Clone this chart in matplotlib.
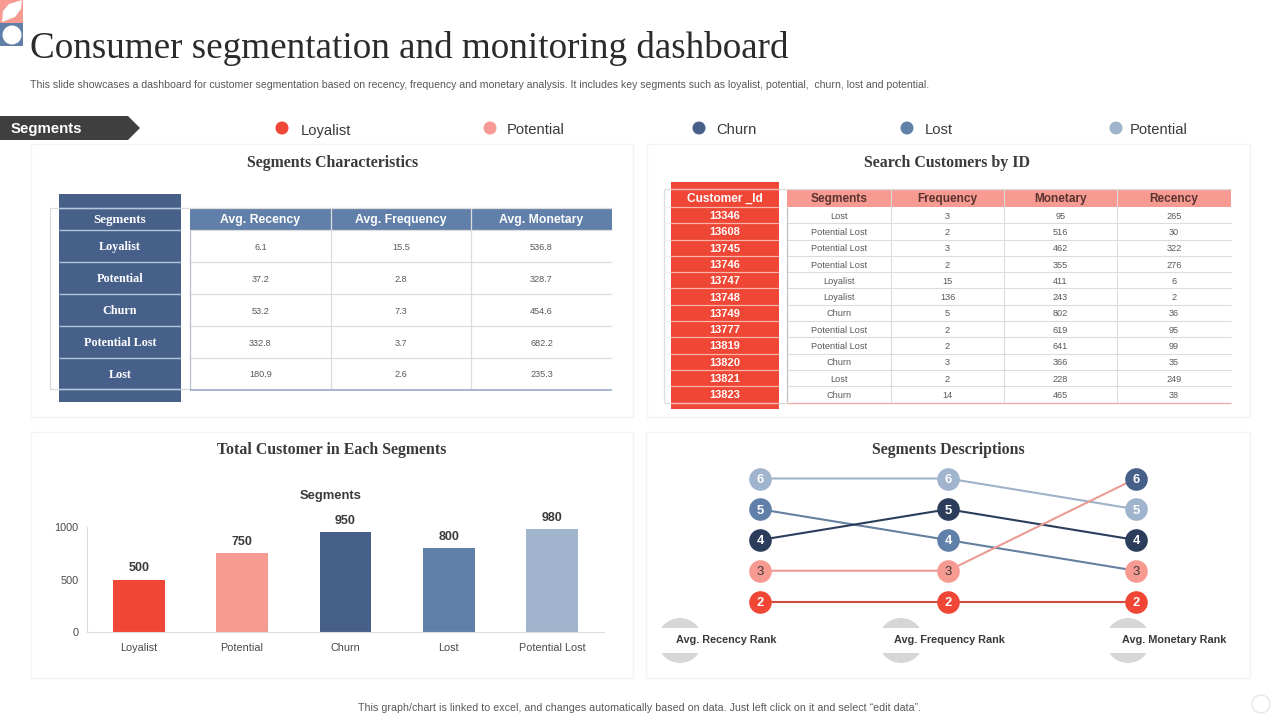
import matplotlib
import matplotlib.pyplot as plt
from matplotlib.patches import Circle, Polygon, Rectangle, Ellipse

matplotlib.use('Agg')

OUTPUT_PATH = "out.png"

# Theme
RED = "#f04635"
PINK = "#f69a92"
NAVY = "#2b3d5b"
DARK_BLUE = "#46608a"
BLUE = "#6180a9"
LIGHT_BLUE = "#a0b4cd"
TEXT_DARK = "#3a3a3a"
TEXT_GREY = "#595959"
RULE = "#dcdcdc"
PANEL_EDGE = "#f3f3f3"
SANS = "Liberation Sans"
SERIF = "Liberation Serif"

# Legend
legend_labels = ["Loyalist", "Potential", "Churn", "Lost", "Potential"]
legend_colors = [RED, PINK, DARK_BLUE, BLUE, LIGHT_BLUE]

# Segments Characteristics table
char_header = ["Avg. Recency", "Avg. Frequency", "Avg. Monetary"]
char_segments = ["Loyalist", "Potential", "Churn", "Potential Lost", "Lost"]
avg_recency = ["6.1", "37.2", "53.2", "332.8", "180.9"]
avg_frequency = ["15.5", "2.8", "7.3", "3.7", "2.6"]
avg_monetary = ["536.8", "328.7", "454.6", "682.2", "235.3"]

# Search Customers table
cust_header = ["Segments", "Frequency", "Monetary", "Recency"]
customer_ids = ["13346", "13608", "13745", "13746", "13747", "13748",
                "13749", "13777", "13819", "13820", "13821", "13823"]
cust_segments = ["Lost", "Potential Lost", "Potential Lost", "Potential Lost",
                 "Loyalist", "Loyalist", "Churn", "Potential Lost",
                 "Potential Lost", "Churn", "Lost", "Churn"]
cust_frequency = ["3", "2", "3", "2", "15", "136", "5", "2", "2", "3", "2", "14"]
cust_monetary = ["95", "516", "462", "355", "411", "243", "802", "619", "641",
                 "366", "228", "465"]
cust_recency = ["265", "30", "322", "276", "6", "2", "36", "95", "99", "35",
                "249", "38"]

# Total customers bar chart
bar_labels = ["Loyalist", "Potential", "Churn", "Lost", "Potential Lost"]
bar_values = [500, 750, 950, 800, 980]
bar_colors = [RED, PINK, DARK_BLUE, BLUE, LIGHT_BLUE]

# Rank chart: one list per line, one value per rank column
rank_columns = ["Avg. Recency Rank", "Avg. Frequency Rank", "Avg. Monetary Rank"]
rank_light = [6, 6, 5]
rank_blue = [5, 4, 3]
rank_navy = [4, 5, 4]
rank_pink = [3, 3, 6]
rank_red = [2, 2, 2]


def rule(ax, xs, ys, color=RULE, lw=0.9):
    ax.plot(xs, ys, color=color, lw=lw, solid_capstyle="butt")


def draw_header(ax):
    # logo
    ax.add_patch(Rectangle((0, 0), 23, 23, fc=PINK, ec="none"))
    ax.add_patch(Rectangle((0, 23), 23, 23, fc=BLUE, ec="none"))
    ax.add_patch(Polygon([(2, 22), (3, 11), (9, 4), (22, 0), (21, 9), (15, 17)],
                         fc="white", ec="none"))
    ax.add_patch(Circle((12, 35), 9.5, fc="white", ec="none"))

    ax.text(30, 44.5, "Consumer segmentation and monitoring dashboard",
            family=SERIF, fontsize=26.7, color="#2b2b2b", va="center_baseline", ha="left")
    ax.text(30, 84.5, "This slide showcases a dashboard for customer segmentation based on recency, "
            "frequency and monetary analysis. It includes key segments such as loyalist, potential,  "
            "churn, lost and potential.",
            family=SANS, fontsize=7.55, color=TEXT_GREY, va="center", ha="left")

    ax.add_patch(Polygon([(0, 116), (128, 116), (140, 128), (128, 140), (0, 140)],
                         fc="#3f3f3f", ec="none"))
    ax.text(11, 129.5, "Segments", family=SANS, fontsize=10.8, fontweight="bold",
            color="white", va="center", ha="left")

    dot_x = [282, 490, 699, 907, 1116]
    text_x = [301, 507, 716, 925, 1130]
    for label, color, dx, tx in zip(legend_labels, legend_colors, dot_x, text_x):
        ax.add_patch(Circle((dx, 128), 6.5, fc=color, ec="none"))
        ax.text(tx, 129, label, family=SANS, fontsize=10.6, color=TEXT_DARK,
                va="center_baseline", ha="left")

    ax.text(640, 708, "This graph/chart is linked to excel, and changes automatically based on data. "
            "Just left click on it and select \u201cedit data\u201d.",
            family=SANS, fontsize=7.66, color=TEXT_GREY, va="center", ha="center")
    ax.add_patch(Circle((1261, 704), 9, fc="white", ec="#e2e2e2", lw=0.8))


def draw_panels(ax):
    boxes = [(31, 144, 602, 273), (647, 144, 603, 273),
             (31, 432, 602, 246), (646, 432, 604, 246)]
    for x, y, w, h in boxes:
        ax.add_patch(Rectangle((x, y), w, h, fc="white", ec=PANEL_EDGE, lw=1))
    titles = [(333, 163, "Segments Characteristics"), (947, 163, "Search Customers by ID"),
              (332, 449.5, "Total Customer in Each Segments"), (948, 449.5, "Segments Descriptions")]
    for x, y, label in titles:
        ax.text(x, y, label, family=SERIF, fontsize=11.4, fontweight="bold",
                color=TEXT_DARK, va="center", ha="center")


def draw_char_table(ax):
    col_edges = [190, 331, 471, 612]
    row_edges = [230, 262, 294, 326, 358, 389]

    rule(ax, [50, 612], [208, 208])
    rule(ax, [50, 50], [208, 389])
    rule(ax, [50, 190], [389, 389])

    ax.add_patch(Rectangle((190, 208), 422, 22, fc=BLUE, ec="none"))
    ax.add_patch(Rectangle((59, 194), 122, 208, fc=DARK_BLUE, ec="none"))
    for y in [208] + row_edges:
        rule(ax, [59, 181], [y, y], color="#b5c7dd", lw=1)

    ax.text(120, 220.5, "Segments", family=SERIF, fontsize=9.4, fontweight="bold",
            color="white", va="center", ha="center")
    for i, seg in enumerate(char_segments):
        ax.text(120, (row_edges[i] + row_edges[i + 1]) / 2 + 1, seg, family=SERIF, fontsize=8.7,
                fontweight="bold", color="white", va="center", ha="center")

    columns = [avg_recency, avg_frequency, avg_monetary]
    for j, head in enumerate(char_header):
        cx = (col_edges[j] + col_edges[j + 1]) / 2
        ax.text(cx, 220, head, family=SANS, fontsize=8.8, fontweight="bold",
                color="white", va="center", ha="center")
        for i, val in enumerate(columns[j]):
            ax.text(cx, (row_edges[i] + row_edges[i + 1]) / 2 + 1, val, family=SANS, fontsize=6.6,
                    color=TEXT_GREY, va="center", ha="center")

    for y in row_edges[:-1]:
        rule(ax, [190, 612], [y, y])
    for x in col_edges[1:-1]:
        rule(ax, [x, x], [208, 389])
    rule(ax, [190, 190], [230, 389], color="#b9bfca")
    rule(ax, [190, 612], [389.5, 389.5], color="#8ea4c2", lw=1.1)


def draw_cust_table(ax):
    col_edges = [787, 891, 1004, 1117, 1231]
    n = len(customer_ids)
    row_h = (402.5 - 207) / n
    row_edges = [207 + i * row_h for i in range(n + 1)]

    rule(ax, [664, 1231], [189, 189])
    rule(ax, [664, 664], [189, 402])
    for y in row_edges[:-1]:
        rule(ax, [664, 671], [y, y], color="#eeeeee", lw=0.8)
    rule(ax, [664, 787], [402.5, 402.5])

    ax.add_patch(Rectangle((787, 189), 444, 18, fc=PINK, ec="none"))
    ax.add_patch(Rectangle((671, 182), 108, 227, fc=RED, ec="none"))
    for y in [189] + row_edges:
        rule(ax, [671, 779], [y, y], color="#f9b5ac")

    ax.text(725, 199, "Customer _Id", family=SANS, fontsize=8.6, fontweight="bold",
            color="white", va="center", ha="center")
    for i, cid in enumerate(customer_ids):
        ax.text(725, (row_edges[i] + row_edges[i + 1]) / 2 + 1, cid, family=SANS, fontsize=8,
                fontweight="bold", color="white", va="center", ha="center")

    columns = [cust_segments, cust_frequency, cust_monetary, cust_recency]
    for j, head in enumerate(cust_header):
        cx = (col_edges[j] + col_edges[j + 1]) / 2
        ax.text(cx, 199, head, family=SANS, fontsize=8.6, fontweight="bold",
                color="#5a3330", va="center", ha="center")
        for i, val in enumerate(columns[j]):
            ax.text(cx, (row_edges[i] + row_edges[i + 1]) / 2 + 1, val, family=SANS, fontsize=6.6,
                    color=TEXT_GREY, va="center", ha="center")

    for y in row_edges[1:-1]:
        rule(ax, [787, 1231], [y, y], lw=0.8)
    for x in col_edges[1:-1]:
        rule(ax, [x, x], [189, 402], lw=0.8)
    rule(ax, [787, 787], [207, 402], color="#c2c2c2")
    rule(ax, [787, 1231], [402.5, 402.5], color="#eeb0a8", lw=1)


def draw_bars(fig):
    # axes box maps to the pixels of the original plot area
    bar_ax = fig.add_axes([87 / 1280, 1 - 632 / 720, 517 / 1280, 105 / 720])
    bar_ax.patch.set_alpha(0)
    positions = list(range(len(bar_values)))
    bars = bar_ax.bar(positions, bar_values, width=0.5, color=bar_colors)
    bar_ax.bar_label(bars, padding=3.8, fontsize=9, fontweight="bold", family=SANS, color=TEXT_DARK)
    bar_ax.set_xlim(-0.5, 4.5)
    bar_ax.set_ylim(0, 1000)
    bar_ax.set_yticks([0, 500, 1000])
    bar_ax.set_xticks(positions)
    bar_ax.set_xticklabels(bar_labels)
    bar_ax.tick_params(length=0, labelsize=7.8, colors="#4a4a4a", pad=8)
    bar_ax.tick_params(axis="y", pad=6)
    for label in bar_ax.get_xticklabels() + bar_ax.get_yticklabels():
        label.set_family(SANS)
    bar_ax.spines["top"].set_visible(False)
    bar_ax.spines["right"].set_visible(False)
    bar_ax.spines["left"].set_color(RULE)
    bar_ax.spines["bottom"].set_color(RULE)
    fig.text(331 / 1280, 1 - 496.5 / 720, "Segments", family=SANS, fontsize=9.4, fontweight="bold",
             color=TEXT_DARK, va="center", ha="center")


def draw_ranks(fig, ax):
    # gray badges behind the rank column captions
    for cx in [680, 901, 1128]:
        ax.add_patch(Ellipse((cx, 640.5), 45, 45, fc="#d6d6d6", ec="none"))
        ax.add_patch(Rectangle((cx - 24, 628), 48, 25, fc="white", ec="none"))

    # x runs over the three columns, y over the ranks 2 to 6
    rank_ax = fig.add_axes([760 / 1280, 1 - 601.5 / 720, 376 / 1280, 123 / 720])
    rank_ax.patch.set_alpha(0)
    rank_ax.set_xlim(0, 2)
    rank_ax.set_ylim(2, 6)
    rank_ax.axis("off")

    xs = [0, 1, 2]
    lines = [(rank_light, "#9fb2ca", [LIGHT_BLUE, LIGHT_BLUE, LIGHT_BLUE]),
             (rank_blue, "#64809f", [BLUE, BLUE, PINK]),
             (rank_navy, NAVY, [NAVY, NAVY, NAVY]),
             (rank_pink, "#ea9c94", [PINK, PINK, DARK_BLUE]),
             (rank_red, "#cf4c3c", [RED, RED, RED])]
    for values, line_color, dot_colors in lines:
        rank_ax.plot(xs, values, color=line_color, lw=1.5, zorder=2, clip_on=False)
        for x, v, c in zip(xs, values, dot_colors):
            rank_ax.scatter([x], [v], s=265, color=c, zorder=3, clip_on=False, linewidths=0)
            txt = TEXT_DARK if c == PINK else "white"
            rank_ax.text(x, v, str(v), family=SANS, fontsize=9.4, fontweight="bold" if c != PINK else "normal",
                         color=txt, va="center_baseline", ha="center", zorder=4)

    for cx, label in zip([726, 949, 1174], rank_columns):
        ax.text(cx, 640, label, family=SANS, fontsize=7.8, fontweight="bold",
                color=TEXT_DARK, va="center", ha="center", zorder=5)


if __name__ == "__main__":
    fig = plt.figure(figsize=(12.8, 7.2), dpi=100, facecolor="white")
    ax = fig.add_axes([0, 0, 1, 1])
    ax.set_xlim(0, 1280)
    ax.set_ylim(720, 0)
    ax.axis("off")

    draw_panels(ax)
    draw_header(ax)
    draw_char_table(ax)
    draw_cust_table(ax)
    draw_bars(fig)
    draw_ranks(fig, ax)

    fig.savefig(OUTPUT_PATH, dpi=100, facecolor="white")
    plt.close(fig)
